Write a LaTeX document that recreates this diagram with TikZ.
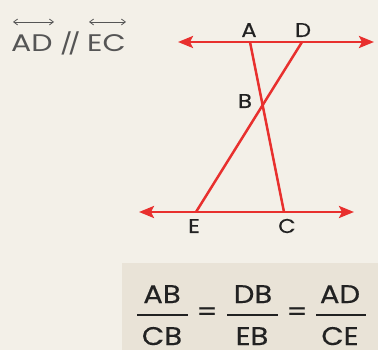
\documentclass[tikz,border=0pt]{standalone}
\usepackage{fontspec}
\setmainfont{Poppins}
\newfontfamily\fracfont[FakeStretch=1.14,FakeBold=0.4]{Poppins}
\newfontfamily\titlefont[FakeStretch=1.25]{Poppins}
\usetikzlibrary{arrows.meta,calc,intersections}
\definecolor{bgc}{HTML}{F3F0E8}
\definecolor{boxc}{HTML}{E9E3D7}
\definecolor{redl}{HTML}{E8302E}
\definecolor{txt}{HTML}{222222}
\definecolor{graytxt}{HTML}{555555}
\tikzset{
  redline/.style={draw=redl, line width=2.5pt},
  bothtips/.style={redline, {Stealth[length=15pt,width=12pt,inset=3pt]}-{Stealth[length=15pt,width=12pt,inset=3pt]}},
  ptlabel/.style={text=txt, font=\fracfont\fontsize{20}{21}\selectfont, inner sep=0pt, anchor=base},
  fractext/.style={text=txt, font=\fracfont\fontsize{25.5}{26}\selectfont, inner sep=0pt, anchor=base},
  eqtext/.style={text=txt, font=\fracfont\fontsize{25.5}{26}\selectfont, inner sep=0pt, anchor=center},
  bar/.style={draw=txt, line width=1.4pt},
  overarrow/.style={draw=graytxt, line width=0.8pt, {Straight Barb[length=4pt,width=6pt]}-{Straight Barb[length=4pt,width=6pt]}},
  titletext/.style={text=graytxt, font=\titlefont\fontsize{24}{25}\selectfont, inner sep=0pt, anchor=base west}
}
\begin{document}
\begin{tikzpicture}[x=1pt,y=-1pt]
\useasboundingbox (0,0) rectangle (378,350);
\fill[bgc] (0,0) rectangle (378,350);
\fill[boxc] (122,263) rectangle (378,350);
% title
\node[titletext] (t1) at (11,52) {AD};
\node[titletext, font=\titlefont\fontsize{21}{22}\selectfont] (t2) at (60,52) {/\kern-4.5pt/};
\node[titletext] (t3) at (87,52) {EC};
\coordinate (a1l) at (13,22); \coordinate (a1r) at (54,22);
\coordinate (a2l) at (89,22); \coordinate (a2r) at (126,22);
\draw[overarrow] (a1l) -- (a1r);
\draw[overarrow] (a2l) -- (a2r);
% points
\coordinate (A) at (250,42);
\coordinate (D) at (302,42);
\coordinate (E) at (196,212);
\coordinate (C) at (284,212);
\coordinate (L1) at (178,42); \coordinate (R1) at (374,42);
\coordinate (L2) at (139,212); \coordinate (R2) at (354,212);
\draw[bothtips] (L1) -- (R1);
\draw[bothtips] (L2) -- (R2);
\draw[redline] (A) -- (C);
\draw[redline] (D) -- (E);
% labels
\node[ptlabel] (lA) at (249,37) {A};
\node[ptlabel] (lD) at (303,37) {D};
\node[ptlabel] (lB) at (245,108) {B};
\node[ptlabel] (lE) at (194,233) {E};
\node[ptlabel] (lC) at (287,233) {C};
% fraction
\node[fractext] (n1) at (162,303) {AB};
\node[fractext] (d1) at (162,345) {CB};
\node[eqtext] (eq1) at (207,314) {=};
\node[fractext] (n2) at (253,303) {DB};
\node[fractext] (d2) at (252,345) {EB};
\node[eqtext] (eq2) at (297,314) {=};
\node[fractext] (n3) at (340,303) {AD};
\node[fractext] (d3) at (340,345) {CE};
\coordinate (b1l) at (137,315); \coordinate (b1r) at (188,315);
\coordinate (b2l) at (227,315); \coordinate (b2r) at (278,315);
\coordinate (b3l) at (316,315); \coordinate (b3r) at (366,315);
\draw[bar] (b1l) -- (b1r);
\draw[bar] (b2l) -- (b2r);
\draw[bar] (b3l) -- (b3r);
\end{tikzpicture}
\end{document}
